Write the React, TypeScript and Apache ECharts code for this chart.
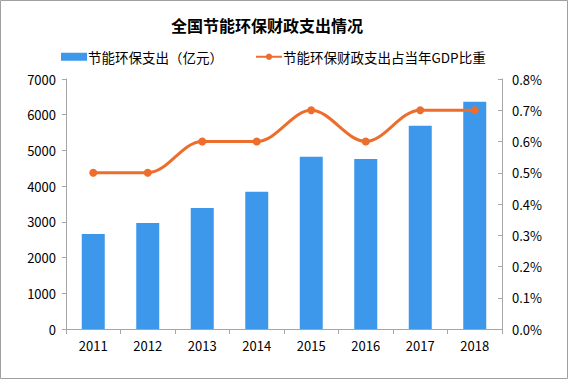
import React, { useEffect, useRef } from "react";
import * as echarts from "echarts";

const years = ["2011", "2012", "2013", "2014", "2015", "2016", "2017", "2018"];
const spending = [2660, 2970, 3390, 3840, 4820, 4760, 5690, 6360];
const gdpShare = [0.5, 0.5, 0.6, 0.6, 0.7, 0.6, 0.7, 0.7];
const barName = "节能环保支出（亿元）";
const lineName = "节能环保财政支出占当年GDP比重";
const titleText = "全国节能环保财政支出情况";

export default function App() {
  const ref = useRef<HTMLDivElement>(null);
  useEffect(() => {
    document.body.style.margin = "0";
    const chart = echarts.init(ref.current!, null, { renderer: "svg" });
    const font = "'SimSun', 'Noto Sans CJK SC', sans-serif";
    chart.setOption({
      animation: false,
      backgroundColor: "#ffffff",
      textStyle: { fontFamily: font },
      title: {
        text: titleText,
        left: 262,
        textAlign: "center",
        top: 12,
        textStyle: { fontSize: 16, fontWeight: "bold", color: "#000", fontFamily: "'Noto Sans CJK SC', sans-serif" },
      },
      graphic: [
        {
          type: "rect",
          shape: { x: 0.5, y: 0.5, width: 567, height: 378 },
          style: { fill: "none", stroke: "#a0a0a0", lineWidth: 1 },
          silent: true,
        },
      ],
      legend: {
        top: 45,
        left: 56,
        itemGap: 32,
        itemWidth: 26,
        itemHeight: 8,
        textStyle: { fontSize: 13.5, color: "#000", padding: [0, 0, 0, -4] },
        data: [
          { name: barName, icon: "rect" },
          { name: lineName },
        ],
      },
      grid: { left: 66, right: 66, top: 79, bottom: 50 },
      xAxis: {
        type: "category",
        data: years,
        boundaryGap: true,
        axisLine: { lineStyle: { color: "#a6a6a6" } },
        axisTick: { show: true, alignWithLabel: false, length: 5, lineStyle: { color: "#a6a6a6" } },
        axisLabel: { color: "#000", fontSize: 13, margin: 10 },
      },
      yAxis: [
        {
          type: "value",
          min: 0,
          max: 7000,
          interval: 1000,
          splitLine: { show: false },
          axisLine: { show: true, lineStyle: { color: "#a6a6a6" } },
          axisTick: { show: true, length: 4, lineStyle: { color: "#a6a6a6" } },
          axisLabel: { color: "#000", fontSize: 13, margin: 10, formatter: (v: number) => String(v) },
        },
        {
          type: "value",
          min: 0,
          max: 0.8,
          interval: 0.1,
          position: "right",
          splitLine: { show: false },
          axisLine: { show: true, lineStyle: { color: "#a6a6a6" } },
          axisTick: { show: true, inside: true, length: 4, lineStyle: { color: "#a6a6a6" } },
          axisLabel: {
            color: "#000",
            fontSize: 13,
            margin: 10,
            formatter: (v: number) => v.toFixed(1) + "%",
          },
        },
      ],
      series: [
        {
          name: barName,
          type: "bar",
          data: spending,
          barWidth: 23,
          itemStyle: { color: "#3d97ea" },
        },
        {
          name: lineName,
          type: "line",
          yAxisIndex: 1,
          data: gdpShare,
          smooth: 0.35,
          symbol: "circle",
          symbolSize: 8,
          lineStyle: { color: "#ed6d2c", width: 3 },
          itemStyle: { color: "#ed6d2c" },
        },
      ],
    });
    return () => chart.dispose();
  }, []);
  return <div ref={ref} style={{ width: 568, height: 379 }} />;
}
